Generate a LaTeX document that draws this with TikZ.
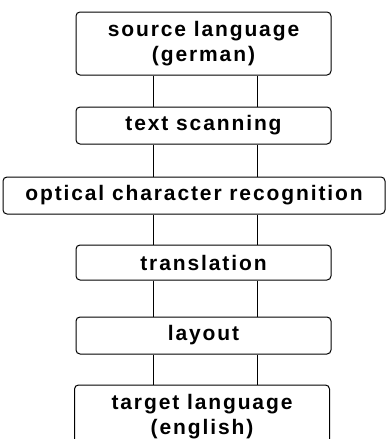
\documentclass[tikz,border=0pt]{standalone}
\usepackage{fontspec}
\setmainfont{Liberation Sans}[LetterSpace=9]
\usetikzlibrary{positioning}
\tikzset{
  stage/.style={draw, line width=1pt, rounded corners=4pt, minimum width=255pt,
    minimum height=37pt, inner sep=2pt, align=center,
    font=\fontsize{21}{25}\selectfont\bfseries},
  link/.style={line width=1pt}
}

\begin{document}
\begin{tikzpicture}[node distance=31pt]
  \useasboundingbox (0pt,0pt) rectangle (386pt,-439pt);
  \node[stage, minimum height=63pt] (src) at (203.5pt,-43.5pt) {source language\\(german)};
  \node[stage] (scan) [below=of src] {text scanning};
  \node[stage, minimum width=382pt] (ocr) [below=32pt of scan, xshift=-9.5pt] {optical character recognition};
  \node[stage, minimum height=35pt] (trans) [below=30pt of ocr, xshift=9.5pt] {translation};
  \node[stage] (lay) [below=36pt of trans] {layout};
  \node[stage, minimum height=63pt] (tgt) [below=30pt of lay, xshift=-1.5pt] {target language\\(english)};
  % two parallel lines between the stages
  \foreach \a/\b in {src/scan, scan/ocr, ocr/trans, trans/lay, lay/tgt} {
    \draw[link] (\a.south -| src.south) ++(-50.5pt,0) coordinate (l) -- (l |- \b.north);
    \draw[link] (\a.south -| src.south) ++(53.5pt,0) coordinate (r) -- (r |- \b.north);
  }
\end{tikzpicture}
\end{document}
